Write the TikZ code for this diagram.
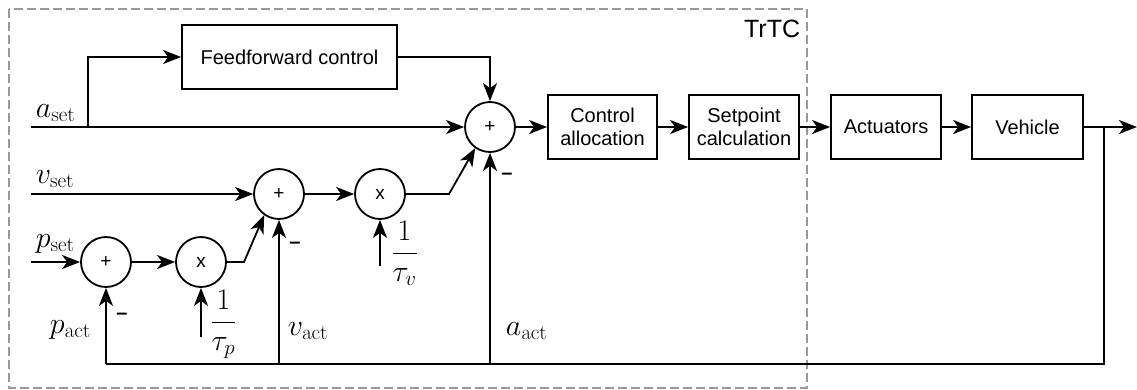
\RequirePackage{fix-cm}
\documentclass[tikz,border=0pt]{standalone}
\usepackage[no-math]{fontspec}
\newfontfamily\arial{Liberation Sans}
\usetikzlibrary{arrows.meta,calc}
\begin{document}
\begin{tikzpicture}[x=1pt,y=-1pt,
  line width=1.8pt,
  arr/.style={-{Stealth[length=18pt,width=14pt,inset=5pt]}},
  blk/.style={draw,rectangle,minimum width=110pt,minimum height=64pt,align=center,font=\arial\fontsize{20}{23}\selectfont,inner sep=0pt},
  sumc/.style={draw,circle,minimum size=50pt,inner sep=0pt,font=\arial\fontsize{19}{19}\selectfont},
  lbl/.style={font=\fontsize{30}{32}\selectfont,inner sep=0pt},
  neg/.style={font=\arial\bfseries\fontsize{20}{20}\selectfont,inner sep=0pt},
  frame/.style={draw=gray!80,dash pattern=on 9pt off 4pt,line width=1.2pt}
]
\useasboundingbox (0,0) rectangle (1137,389);
\draw[frame] (9,9) rectangle (807,388);
\node[anchor=base east,font=\arial\fontsize{25}{25}\selectfont,inner sep=0pt] (trtc) at (801,37) {TrTC};

% blocks
\node[blk,minimum width=215pt] (ff) at (289.5,57) {Feedforward control};
\node[sumc] (sum) at (490,127) {+};
\node[blk,minimum width=109pt] (ca) at (602.5,127) {Control\\allocation};
\node[blk] (sc) at (744,127) {Setpoint\\calculation};
\node[blk] (act) at (886,127) {Actuators};
\node[blk,minimum width=111pt] (veh) at (1027.5,127) {Vehicle};
\node[sumc] (sum2) at (279,194) {+};
\node[sumc] (mul2) at (380,194) {x};
\node[sumc] (sum3) at (106,262) {+};
\node[sumc] (mul1) at (201,262) {x};

% coordinates
\coordinate (aIn) at (31,127);
\coordinate (aBr) at (88,127);
\coordinate (vIn) at (31,194);
\coordinate (pIn) at (31,262);
\coordinate (out) at (1137,127);
\coordinate (outBr) at (1104,127);
\coordinate (fbL) at (106,364);
\coordinate (bend1) at (244,262);
\coordinate (bend2) at (449,194);
\coordinate (tpIn) at (201,337);
\coordinate (tvIn) at (380,266);

% labels
\node[lbl,anchor=base west] (aset) at (35,117) {$a_{\mathrm{set}}$};
\node[lbl,anchor=base west] (vset) at (35,183) {$v_{\mathrm{set}}$};
\node[lbl,anchor=base west] (pset) at (35,247) {$p_{\mathrm{set}}$};
\node[lbl,anchor=base west] (pact) at (49,333) {$p_{\mathrm{act}}$};
\node[lbl,anchor=base west] (vact) at (287,335) {$v_{\mathrm{act}}$};
\node[lbl,anchor=base west] (aact) at (505,335) {$a_{\mathrm{act}}$};
\node[lbl,anchor=base west] (taup) at (209.5,329.5) {$\displaystyle\frac{1}{\tau_p}$};
\node[lbl,anchor=base west] (tauv) at (390.5,260.5) {$\displaystyle\frac{1}{\tau_v}$};
\node[neg] (m1) at (507,176) {\textendash};
\node[neg] (m2) at (295,245) {\textendash};
\node[neg] (m3) at (122,316) {\textendash};

% connectors
\draw[arr] (aIn) -- (sum);
\draw[arr] (aBr) |- (ff);
\draw[arr] (ff) -| (sum);
\draw[arr] (sum) -- (ca);
\draw[arr] (ca) -- (sc);
\draw[arr] (sc) -- (act);
\draw[arr] (act) -- (veh);
\draw[arr] (veh) -- (out);
\draw (outBr) |- (fbL);
\draw[arr] (fbL) -- (sum3);
\draw[arr] (sum2 |- fbL) -- (sum2);
\draw[arr] (sum |- fbL) -- (sum);
\draw[arr] (vIn) -- (sum2);
\draw[arr] (sum2) -- (mul2);
\draw[arr] (mul2) -- (bend2) -- (sum.-125);
\draw[arr] (pIn) -- (sum3);
\draw[arr] (sum3) -- (mul1);
\draw[arr] (mul1) -- (bend1) -- (sum2.-125);
\draw[arr] (tpIn) -- (mul1);
\draw[arr] (tvIn) -- (mul2);
\end{tikzpicture}
\end{document}
